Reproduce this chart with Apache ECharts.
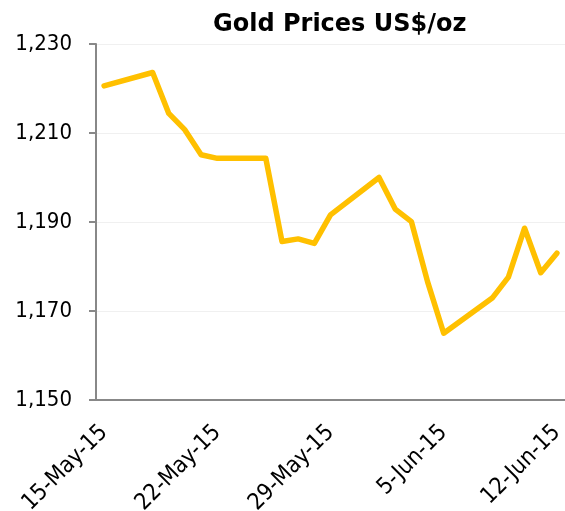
<!DOCTYPE html>
<html lang="en">
<head>
    <meta charset="utf-8">
    <title>Gold Prices</title>
    <script src="https://cdn.jsdelivr.net/npm/echarts@6/dist/echarts.min.js"></script>
    <style>
        html, body { margin: 0; padding: 0; background: #fff; }
        #main { width: 565px; height: 511px; }
    </style>
</head>
<body>
<div id="main"></div>
<script>
    // 交易日 (London fix), weekends are bridged by a straight line
    var tradeDates = [
        '2015-05-15', '2015-05-18', '2015-05-19', '2015-05-20', '2015-05-21', '2015-05-22',
        '2015-05-25', '2015-05-26', '2015-05-27', '2015-05-28', '2015-05-29',
        '2015-06-01', '2015-06-02', '2015-06-03', '2015-06-04', '2015-06-05',
        '2015-06-08', '2015-06-09', '2015-06-10', '2015-06-11', '2015-06-12'
    ];
    var prices = [
        1220.6, 1223.6, 1214.4, 1210.7, 1205.1, 1204.3,
        1204.3, 1185.6, 1186.2, 1185.2, 1191.6,
        1200.0, 1192.9, 1190.1, 1176.6, 1165.0,
        1172.9, 1177.6, 1188.6, 1178.6, 1183.0
    ];
    var yTicks = [1150, 1170, 1190, 1210, 1230];
    var monthNames = ['Jan', 'Feb', 'Mar', 'Apr', 'May', 'Jun', 'Jul', 'Aug', 'Sep', 'Oct', 'Nov', 'Dec'];

    // build a calendar-day axis (like an Excel date axis)
    var days = [];
    var values = [];
    var start = new Date(tradeDates[0] + 'T00:00:00Z');
    var end = new Date(tradeDates[tradeDates.length - 1] + 'T00:00:00Z');
    for (var d = new Date(start); d <= end; d.setUTCDate(d.getUTCDate() + 1)) {
        var key = d.toISOString().slice(0, 10);
        days.push(d.getUTCDate() + '-' + monthNames[d.getUTCMonth()] + '-' + String(d.getUTCFullYear()).slice(2));
        var idx = tradeDates.indexOf(key);
        values.push(idx >= 0 ? prices[idx] : null);
    }

    var font = 'DejaVu Sans Condensed';
    var mCharts = echarts.init(document.getElementById('main'));
    var option = {
        animation: false,
        title: {
            text: 'Gold Prices US$/oz',
            left: 208,
            top: 8,
            textStyle: { fontFamily: 'DejaVu Sans', fontWeight: 'bold', fontSize: 24, color: '#000' }
        },
        grid: { left: 96, right: 0, top: 44, bottom: 111, containLabel: false, outerBoundsMode: 'none' },
        xAxis: {
            type: 'category',
            data: days,
            boundaryGap: true,
            axisLine: { lineStyle: { color: '#888', width: 2 } },
            axisTick: { interval: 6, length: 7, lineStyle: { color: '#888', width: 2 } },
            axisLabel: {
                interval: 6,
                rotate: 45,
                margin: 29,
                fontFamily: font,
                fontSize: 23,
                color: '#000'
            },
            splitLine: { show: false }
        },
        yAxis: {
            type: 'value',
            min: yTicks[0],
            max: yTicks[yTicks.length - 1],
            interval: 20,
            axisLine: { show: true, lineStyle: { color: '#888', width: 2 } },
            axisTick: { show: true, length: 7, lineStyle: { color: '#888', width: 2 } },
            axisLabel: {
                margin: 24,
                fontFamily: font,
                fontSize: 22,
                color: '#000',
                formatter: function (v) { return v.toLocaleString('en-US'); }
            },
            splitLine: { show: true, lineStyle: { color: '#f0f0f0', width: 1 } }
        },
        series: [{
            name: 'Gold',
            type: 'line',
            data: values,
            connectNulls: true,
            showSymbol: false,
            symbol: 'none',
            lineStyle: { color: '#FFC000', width: 5.5, join: 'round', cap: 'round' },
            itemStyle: { color: '#FFC000' }
        }]
    };
    mCharts.setOption(option);
</script>
</body>
</html>
